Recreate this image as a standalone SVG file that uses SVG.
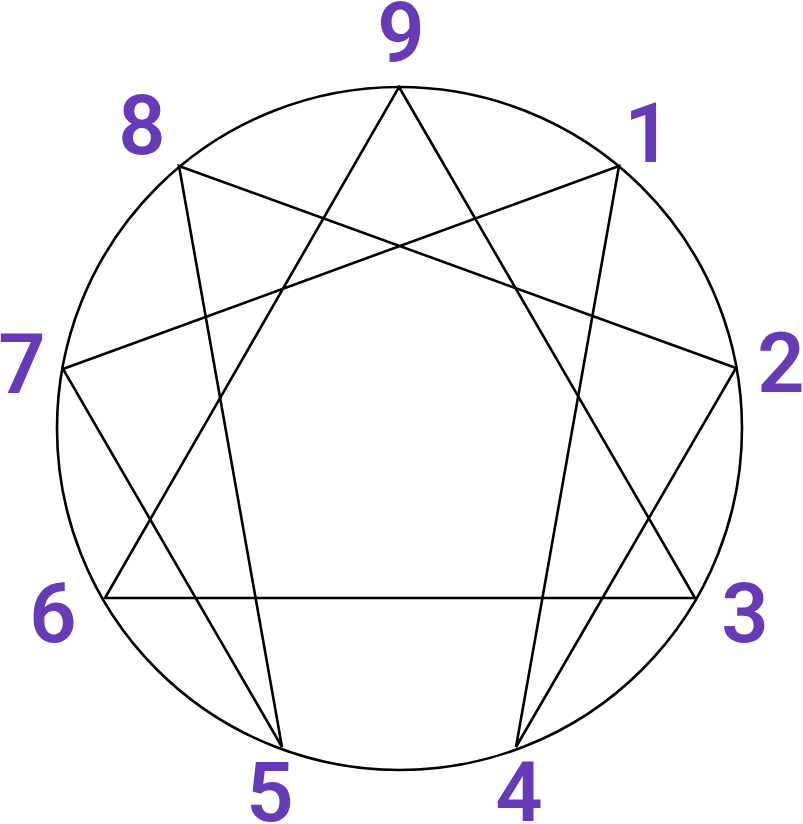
<svg xmlns="http://www.w3.org/2000/svg" width="803" height="824" viewBox="0 0 803 824">
<style>
.ln{stroke:#000;stroke-width:2.6;fill:none;stroke-linejoin:miter}
.lb{font-family:Roboto,"Liberation Sans",sans-serif;font-size:83px;font-weight:600;fill:#673ab7;text-anchor:middle}
</style>
<rect width="803" height="824" fill="#fff"/>
<g id="connectors">
<ellipse class="ln" cx="399.5" cy="428.5" rx="342.5" ry="341.5"/>
<polygon class="ln" points="399,87 695,598 105,598"/>
<polygon class="ln" points="619,166 516,747 736,368 179,166 282,747 63,369"/>
</g>
<g id="n9"><text class="lb" x="401" y="62">9</text></g>
<g id="n1"><text class="lb" x="648" y="162">1</text></g>
<g id="n2"><text class="lb" x="781" y="392">2</text></g>
<g id="n3"><text class="lb" x="745" y="642">3</text></g>
<g id="n4"><text class="lb" x="519" y="821">4</text></g>
<g id="n5"><text class="lb" x="270" y="821">5</text></g>
<g id="n6"><text class="lb" x="53" y="642">6</text></g>
<g id="n7"><text class="lb" x="22" y="393">7</text></g>
<g id="n8"><text class="lb" x="142" y="154">8</text></g>
</svg>
